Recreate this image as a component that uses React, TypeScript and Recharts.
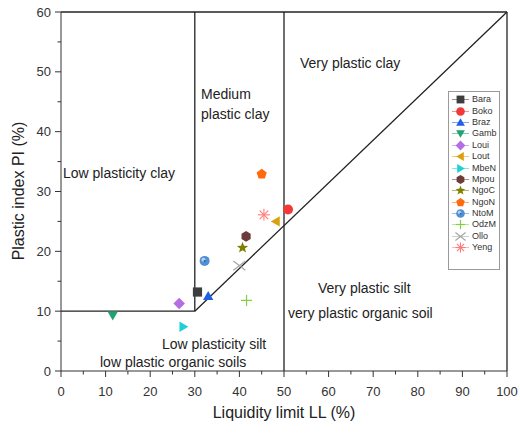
import React from 'react';
import { ScatterChart, Scatter, XAxis, YAxis, ReferenceLine, Legend } from 'recharts';

// soil samples: liquidity limit LL (%) vs plastic index PI (%)
const SOILS = ['Bara', 'Boko', 'Braz', 'Gamb', 'Loui', 'Lout', 'MbeN', 'Mpou', 'NgoC', 'NgoN', 'NtoM', 'OdzM', 'Ollo', 'Yeng'];
const LIQUID_LIMIT = [30.6, 50.9, 33.0, 11.6, 26.5, 48.2, 27.4, 41.5, 40.7, 45.0, 32.2, 41.6, 40.0, 45.5];
const PLASTIC_INDEX = [13.2, 27.0, 12.5, 9.3, 11.3, 25.0, 7.4, 22.5, 20.6, 32.9, 18.4, 11.8, 17.6, 26.1];
const MARKERS = ['square', 'circle', 'triangle', 'triangleDown', 'diamond', 'triangleLeft', 'triangleRight', 'hexagon', 'star', 'pentagon', 'sphere', 'plus', 'cross', 'asterisk'];
const COLORS = ['#3d3d3d', '#f23838', '#1f5fe6', '#1fa36f', '#b56de6', '#d9a10d', '#1fd0d8', '#6e3b3b', '#808000', '#ff6a0a', '#4f8fd6', '#7fd13f', '#a6a6a6', '#ff7b7b'];

const X_TICKS = [0, 5, 10, 15, 20, 25, 30, 35, 40, 45, 50, 55, 60, 65, 70, 75, 80, 85, 90, 95, 100];
const Y_TICKS = [0, 5, 10, 15, 20, 25, 30, 35, 40, 45, 50, 55, 60];

// zone boundaries of the plasticity chart, [LL, PI] pairs
const BOUNDARIES = [
    [[0, 10], [30, 10]],
    [[30, 10], [30, 60]],
    [[30, 10], [100, 60]],
    [[50, 0], [50, 60]],
    [[0, 60], [100, 60]],
    [[100, 0], [100, 60]],
];

const FONT = '"Liberation Sans", Arial, sans-serif';
const INK = '#222';

const poly = (cx: number, cy: number, n: number, r: number, rot: number) =>
    Array.from({ length: n }, (_, i) => {
        const a = (rot + (360 / n) * i) * Math.PI / 180;
        return `${cx + r * Math.cos(a)},${cy + r * Math.sin(a)}`;
    }).join(' ');

const starPts = (cx: number, cy: number, ro: number, ri: number) =>
    Array.from({ length: 10 }, (_, i) => {
        const a = (-90 + 36 * i) * Math.PI / 180;
        const r = i % 2 === 0 ? ro : ri;
        return `${cx + r * Math.cos(a)},${cy + r * Math.sin(a)}`;
    }).join(' ');

const Marker = ({ kind, color, cx, cy, s = 1 }: any) => {
    const r = 4.6 * s;
    switch (kind) {
        case 'square':
            return <rect x={cx - r} y={cy - r} width={2 * r} height={2 * r} fill={color} />;
        case 'circle':
            return <circle cx={cx} cy={cy} r={r + 0.4} fill={color} />;
        case 'triangle':
            return <polygon points={poly(cx, cy + 0.8, 3, r * 1.3, -90)} fill={color} />;
        case 'triangleDown':
            return <polygon points={poly(cx, cy - 0.8, 3, r * 1.3, 90)} fill={color} />;
        case 'triangleLeft':
            return <polygon points={poly(cx + 0.8, cy, 3, r * 1.3, 180)} fill={color} />;
        case 'triangleRight':
            return <polygon points={poly(cx - 0.8, cy, 3, r * 1.3, 0)} fill={color} />;
        case 'diamond':
            return <polygon points={poly(cx, cy, 4, r * 1.25, -90)} fill={color} />;
        case 'pentagon':
            return <polygon points={poly(cx, cy, 5, r * 1.15, -90)} fill={color} />;
        case 'hexagon':
            return <polygon points={poly(cx, cy, 6, r * 1.15, -90)} fill={color} />;
        case 'star':
            return <polygon points={starPts(cx, cy, r * 1.3, r * 0.55)} fill={color} />;
        case 'sphere':
            return (
                <g>
                    <circle cx={cx} cy={cy} r={r + 0.4} fill={color} />
                    <circle cx={cx - r * 0.25} cy={cy - r * 0.25} r={r * 0.45} fill="#cfe2f5" opacity={0.8} />
                    <circle cx={cx} cy={cy} r={r * 0.22} fill="#2a5a90" />
                </g>
            );
        case 'plus':
            return (
                <g stroke={color} strokeWidth={1.2}>
                    <line x1={cx - r * 1.2} x2={cx + r * 1.2} y1={cy} y2={cy} />
                    <line x1={cx} x2={cx} y1={cy - r * 1.2} y2={cy + r * 1.2} />
                </g>
            );
        case 'cross':
            return (
                <g stroke={color} strokeWidth={1.2}>
                    <line x1={cx - r * 1.3} x2={cx + r * 1.3} y1={cy - r} y2={cy + r} />
                    <line x1={cx - r * 1.3} x2={cx + r * 1.3} y1={cy + r} y2={cy - r} />
                </g>
            );
        case 'asterisk':
            return (
                <g stroke={color} strokeWidth={1.1}>
                    {[0, 45, 90, 135].map((d) => {
                        const a = d * Math.PI / 180;
                        const k = r * 1.3;
                        return <line key={d} x1={cx - k * Math.cos(a)} x2={cx + k * Math.cos(a)} y1={cy - k * Math.sin(a)} y2={cy + k * Math.sin(a)} />;
                    })}
                </g>
            );
        default:
            return null;
    }
};

const series = SOILS.map((name, i) => ({
    name,
    kind: MARKERS[i],
    color: COLORS[i],
    data: [{ x: LIQUID_LIMIT[i], y: PLASTIC_INDEX[i] }],
}));

const XTick = ({ x, y, payload }: any) => {
    const major = payload.value % 10 === 0;
    return (
        <g>
            <line x1={x} x2={x} y1={y} y2={y + (major ? 6 : 3.5)} stroke="#333" />
            {major && (
                <text x={x} y={y + 25} textAnchor="middle" fontSize={13} fontFamily={FONT} fill="#333">
                    {payload.value}
                </text>
            )}
        </g>
    );
};

const YTick = ({ x, y, payload }: any) => {
    const major = payload.value % 10 === 0;
    return (
        <g>
            <line x1={x} x2={x - (major ? 6 : 3.5)} y1={y} y2={y} stroke="#333" />
            {major && (
                <text x={x - 10} y={y + 4.5} textAnchor="end" fontSize={13} fontFamily={FONT} fill="#333">
                    {payload.value}
                </text>
            )}
        </g>
    );
};

const renderLegend = () => (
    <div style={{ border: '1px solid #9a9a9a', background: '#fff', padding: '2px 0 16px 0', fontFamily: FONT, fontSize: 9, color: '#333' }}>
        {series.map((s) => (
            <div key={s.name} style={{ display: 'flex', alignItems: 'center', height: 11.4 }}>
                <svg width={21} height={11} style={{ marginLeft: 1, flex: 'none' }}>
                    <line x1={2} x2={19} y1={5.5} y2={5.5} stroke={s.color} strokeOpacity={0.55} />
                    <Marker kind={s.kind} color={s.color} cx={10.5} cy={5.5} s={0.85} />
                </svg>
                <span style={{ marginLeft: 1, lineHeight: '11px', whiteSpace: 'nowrap' }}>{s.name}</span>
            </div>
        ))}
    </div>
);

const NOTES = [
    { text: 'Very plastic clay', left: 300, top: 53 },
    { text: 'Medium\nplastic clay', left: 201, top: 84 },
    { text: 'Low plasticity clay', left: 63, top: 163 },
    { text: 'Low plasticity silt', left: 162, top: 334 },
    { text: 'low plastic organic soils', left: 100, top: 352 },
    { text: 'Very plastic silt', left: 318, top: 278 },
    { text: 'very plastic organic soil', left: 288, top: 303 },
];

export default function App() {
    return (
        <div style={{ position: 'absolute', left: 0, top: 0, width: 520, height: 435, background: '#fff' }}>
            <ScatterChart width={520} height={435} margin={{ top: 12, right: 13, left: 0, bottom: 0 }}>
                <XAxis
                    type="number"
                    dataKey="x"
                    domain={[0, 100]}
                    ticks={X_TICKS}
                    interval={0}
                    height={64}
                    tickSize={0}
                    tickMargin={0}
                    tick={<XTick />}
                    axisLine={{ stroke: '#333' }}
                    label={{
                        content: () => (
                            <text x={284} y={418} textAnchor="middle" fontSize={16} fontFamily={FONT} fill={INK}>
                                Liquidity limit LL (%)
                            </text>
                        ),
                    }}
                />
                <YAxis
                    type="number"
                    dataKey="y"
                    domain={[0, 60]}
                    ticks={Y_TICKS}
                    interval={0}
                    width={61}
                    tickSize={0}
                    tickMargin={0}
                    tick={<YTick />}
                    axisLine={{ stroke: '#333' }}
                    label={{
                        content: () => (
                            <text x={24} y={191} transform="rotate(-90 24 191)" textAnchor="middle" fontSize={16} fontFamily={FONT} fill={INK}>
                                Plastic index PI (%)
                            </text>
                        ),
                    }}
                />
                {BOUNDARIES.map((seg, i) => (
                    <ReferenceLine
                        key={i}
                        segment={[{ x: seg[0][0], y: seg[0][1] }, { x: seg[1][0], y: seg[1][1] }]}
                        stroke={INK}
                        strokeWidth={1.3}
                        ifOverflow="visible"
                    />
                ))}
                {series.map((s) => (
                    <Scatter
                        key={s.name}
                        name={s.name}
                        data={s.data}
                        fill={s.color}
                        isAnimationActive={false}
                        shape={(p: any) => <Marker kind={s.kind} color={s.color} cx={p.cx} cy={p.cy} />}
                    />
                ))}
                <Legend
                    layout="vertical"
                    align="center"
                    verticalAlign="middle"
                    content={renderLegend}
                    wrapperStyle={{ position: 'absolute', left: 448, top: 91, width: 52, height: 'auto' }}
                />
            </ScatterChart>
            {NOTES.map((n) => (
                <div
                    key={n.text}
                    style={{
                        position: 'absolute',
                        left: n.left,
                        top: n.top,
                        fontFamily: FONT,
                        fontSize: 14,
                        lineHeight: '20px',
                        color: INK,
                        whiteSpace: 'pre',
                    }}
                >
                    {n.text}
                </div>
            ))}
        </div>
    );
}
